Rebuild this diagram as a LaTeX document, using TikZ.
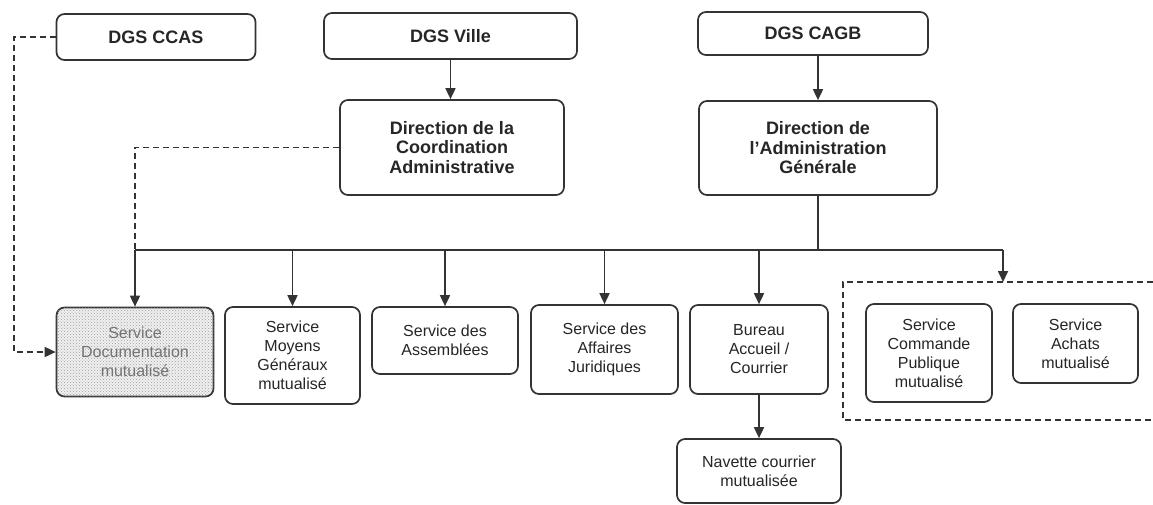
\documentclass[tikz,border=0pt]{standalone}
\usepackage{fontspec}
\setmainfont{Liberation Sans}
\usetikzlibrary{arrows.meta,patterns}

\begin{document}
\begin{tikzpicture}[x=1pt,y=-1pt,
    box/.style={draw=black!80,line width=1.7pt,rounded corners=8pt,align=center,
      inner sep=2pt,text=black!85,font=\fontsize{16}{19}\selectfont},
    head/.style={box,font=\bfseries\fontsize{18}{19.5}\selectfont},
    link/.style={draw=black!80,line width=1.7pt,-{Triangle[length=11pt,width=10pt]}},
    dashlink/.style={draw=black!80,line width=1.7pt,dash pattern=on 6pt off 4pt}]
  \useasboundingbox[fill=white] (0,0) rectangle (1153,504);
  % top level
  \node[head,minimum width=199,minimum height=46] (ccas) at (156,37) {DGS CCAS};
  \node[head,minimum width=253,minimum height=46] (ville) at (450.5,36) {DGS Ville};
  \node[head,minimum width=230,minimum height=43] (cagb) at (813,33.5) {DGS CAGB};
  \node[head,minimum width=224,minimum height=95] (coord) at (452,147.5)
    {Direction de la\\Coordination\\Administrative};
  \node[head,minimum width=238,minimum height=94] (admin) at (818,148)
    {Direction de\\l'Administration\\Générale};
  % services
  \node[box,minimum width=157,minimum height=89,text=black!55,fill=gray!12,
    postaction={pattern=crosshatch dots,pattern color=gray!75}] (doc) at (135,352)
    {Service\\Documentation\\mutualisé};
  \node[box,minimum width=135,minimum height=97] (moyens) at (292.5,355.5)
    {Service\\Moyens\\Généraux\\mutualisé};
  \node[box,minimum width=146,minimum height=67] (assemb) at (445,340.5)
    {Service des\\Assemblées};
  \node[box,minimum width=147,minimum height=89] (affaires) at (604.5,349.5)
    {Service des\\Affaires\\Juridiques};
  \node[box,minimum width=138,minimum height=89] (bureau) at (759,349.5)
    {Bureau\\Accueil /\\Courrier};
  \node[box,minimum width=164,minimum height=64] (navette) at (759,471)
    {Navette courrier\\mutualisée};
  \node[box,minimum width=126,minimum height=98] (commande) at (929,353)
    {Service\\Commande\\Publique\\mutualisé};
  \node[box,minimum width=125,minimum height=79] (achats) at (1075.5,343.5)
    {Service\\Achats\\mutualisé};
  % mutualised group
  \coordinate (grptop) at (1003,282);
  \draw[dashlink] (1153,282) -- (843,282) -- (843,420) -- (1153,420);
  % links
  \coordinate (bus) at (0,250);
  \draw[link] (ville.south) -- (ville.south |- coord.north);
  \draw[link] (admin.north |- cagb.south) -- (admin.north);
  \draw[draw=black!80,line width=1.7pt] (admin.south) -- (admin.south |- bus);
  \draw[draw=black!80,line width=1.7pt] (doc.north |- bus) -- (grptop |- bus);
  \foreach \n in {doc,moyens,assemb,affaires,bureau}
    \draw[link] (\n.north |- bus) -- (\n.north);
  \draw[link] (grptop |- bus) -- (grptop);
  \draw[link] (bureau.south) -- (navette.north);
  \draw[dashlink] (coord.west) -| (doc.north |- bus);
  \draw[dashlink,-{Triangle[length=11pt,width=10pt]}] (ccas.west) -- ++(-42,0) |- (doc.west);
\end{tikzpicture}
\end{document}
